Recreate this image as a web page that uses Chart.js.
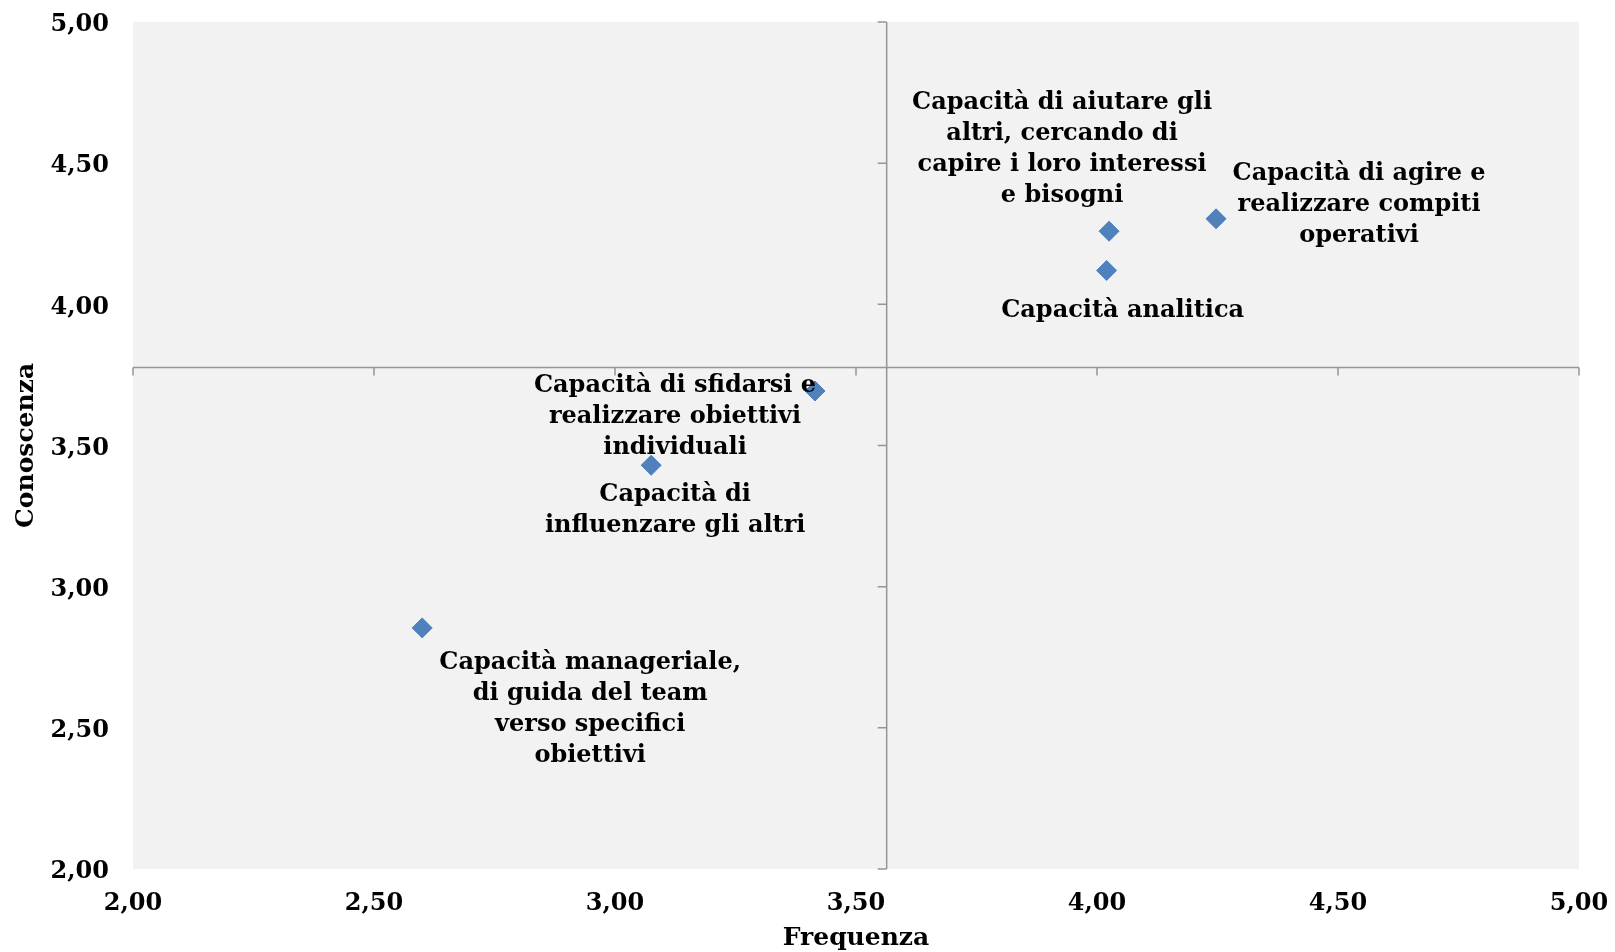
<!DOCTYPE html>
<html>
<head>
<meta charset="utf-8">
<script src="https://cdn.jsdelivr.net/npm/chart.js@4/dist/chart.umd.min.js"></script>
<style>
  html, body { margin: 0; padding: 0; background: #ffffff; }
  #wrap { width: 1615px; height: 952px; }
</style>
</head>
<body>
<div id="wrap"><canvas id="quadrantChart"></canvas></div>
<script>
// values (Frequenza / Conoscenza)
const frequenza = [2.60, 3.075, 3.415, 4.025, 4.02, 4.247];
const conoscenza = [2.854, 3.43, 3.693, 4.259, 4.12, 4.303];
const pointLabels = [
    ['Capacità manageriale,', 'di guida del team', 'verso specifici', 'obiettivi'],
    ['Capacità di', 'influenzare gli altri'],
    ['Capacità di sfidarsi e', 'realizzare obiettivi', 'individuali'],
    ['Capacità di aiutare gli', 'altri, cercando di', 'capire i loro interessi', 'e bisogni'],
    ['Capacità analitica'],
    ['Capacità di agire e', 'realizzare compiti', 'operativi']
];
const tickValues = [2.00, 2.50, 3.00, 3.50, 4.00, 4.50, 5.00];

const fontFamily = '"DejaVu Serif", Georgia, serif';

// axes cross at the means of the two series
const meanX = frequenza.reduce((a, b) => a + b, 0) / frequenza.length;
const meanY = conoscenza.reduce((a, b) => a + b, 0) / conoscenza.length;

const fmt = v => v.toFixed(2).replace('.', ',');

// label placement relative to its marker (centre x, first line y)
const labelOffsets = [
    { dx: 168, dy: 35 },
    { dx: 24, dy: 30 },
    { dx: -140, dy: -5 },
    { dx: -47, dy: -128 },
    { dx: 16, dy: 40 },
    { dx: 143, dy: -45 }
];

const quadrantPlugin = {
    id: 'quadrant',
    beforeDatasetsDraw(chart) {
        const { ctx, chartArea: a, scales: { x, y } } = chart;
        ctx.save();
        ctx.fillStyle = '#f2f2f2';
        ctx.fillRect(a.left, a.top, a.right - a.left, a.bottom - a.top);

        const cx = x.getPixelForValue(meanX);
        const cy = y.getPixelForValue(meanY);
        ctx.strokeStyle = '#959595';
        ctx.lineWidth = 1.5;
        ctx.beginPath();
        ctx.moveTo(a.left, cy);
        ctx.lineTo(a.right, cy);
        ctx.moveTo(cx, a.top);
        ctx.lineTo(cx, a.bottom);
        // tick marks along the crossing lines
        tickValues.forEach(v => {
            const px = x.getPixelForValue(v);
            ctx.moveTo(px, cy);
            ctx.lineTo(px, cy + 8);
            const py = y.getPixelForValue(v);
            ctx.moveTo(cx, py);
            ctx.lineTo(cx - 9, py);
        });
        ctx.stroke();
        ctx.restore();
    },
    afterDatasetsDraw(chart) {
        const { ctx } = chart;
        const meta = chart.getDatasetMeta(0);
        ctx.save();
        ctx.fillStyle = '#000000';
        ctx.font = 'bold 24px ' + fontFamily;
        ctx.textAlign = 'center';
        ctx.textBaseline = 'middle';
        meta.data.forEach((pt, i) => {
            const off = labelOffsets[i];
            pointLabels[i].forEach((line, j) => {
                ctx.fillText(line, pt.x + off.dx, pt.y + off.dy + j * 31);
            });
        });
        ctx.restore();
    }
};

new Chart(document.getElementById('quadrantChart'), {
    type: 'scatter',
    data: {
        datasets: [{
            label: 'Competenze',
            data: frequenza.map((v, i) => ({ x: v, y: conoscenza[i] })),
            pointStyle: 'rectRot',
            pointRadius: 10,
            pointHoverRadius: 10,
            backgroundColor: '#4f81bd',
            borderColor: '#4f81bd',
            borderWidth: 1
        }]
    },
    options: {
        responsive: true,
        maintainAspectRatio: false,
        animation: false,
        layout: { padding: { left: 0, right: 36, top: 22, bottom: 0 } },
        plugins: {
            legend: { display: false },
            tooltip: { enabled: false }
        },
        scales: {
            x: {
                type: 'linear',
                min: 2,
                max: 5,
                afterBuildTicks: s => { s.ticks = tickValues.map(v => ({ value: v })); },
                afterFit: s => {
                    s.height = 83;
                    s.paddingLeft = 0;
                    s.paddingRight = 0;
                },
                grid: { display: false, drawTicks: false },
                border: { display: false },
                ticks: {
                    padding: 20,
                    color: '#000000',
                    font: { family: fontFamily, size: 24, weight: 'bold' },
                    callback: v => fmt(v)
                },
                title: {
                    display: true,
                    text: 'Frequenza',
                    color: '#000000',
                    padding: { top: 0, bottom: 0 },
                    font: { family: fontFamily, size: 25, weight: 'bold', lineHeight: 1.05 }
                }
            },
            y: {
                type: 'linear',
                min: 2,
                max: 5,
                afterBuildTicks: s => { s.ticks = tickValues.map(v => ({ value: v })); },
                afterFit: s => {
                    s.width = 133;
                    s.paddingTop = 0;
                    s.paddingBottom = 0;
                },
                grid: { display: false, drawTicks: false },
                border: { display: false },
                ticks: {
                    padding: 24,
                    labelOffset: 3,
                    color: '#000000',
                    font: { family: fontFamily, size: 24, weight: 'bold' },
                    callback: v => fmt(v)
                },
                title: {
                    display: true,
                    text: 'Conoscenza',
                    color: '#000000',
                    padding: { top: 11, bottom: 0 },
                    font: { family: fontFamily, size: 25, weight: 'bold' }
                }
            }
        }
    },
    plugins: [quadrantPlugin]
});
</script>
</body>
</html>
